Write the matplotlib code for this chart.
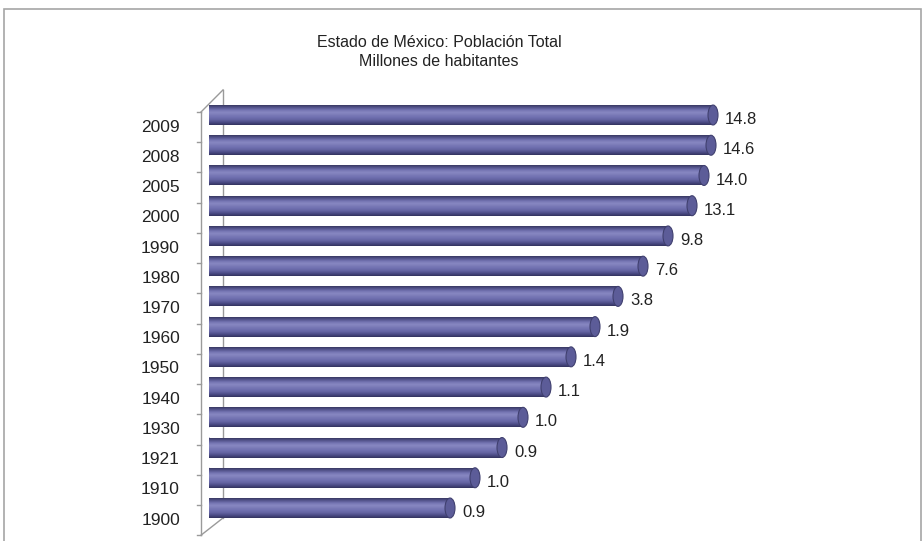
"""
Estado de México: Población Total - barras horizontales tipo cilindro
"""
import numpy as np
import matplotlib
matplotlib.use('Agg')
import matplotlib.pyplot as plt
from matplotlib.patches import Ellipse, Rectangle

plt.rcParams['font.family'] = ['Liberation Sans', 'DejaVu Sans']

# ==================== datos ====================
anios = ['1900', '1910', '1921', '1930', '1940', '1950', '1960',
         '1970', '1980', '1990', '2000', '2005', '2008', '2009']
poblacion = [0.9, 1.0, 0.9, 1.0, 1.1, 1.4, 1.9, 3.8, 7.6, 9.8, 13.1, 14.0, 14.6, 14.8]
# largo visible de cada barra en el original (no es proporcional al valor)
largo_barra = [246, 271, 298, 319, 342, 367, 391, 414, 439, 464, 488, 500, 507, 509]

titulo = 'Estado de México: Población Total\nMillones de habitantes'

# ==================== figura ====================
W, H = 924, 541
fig = plt.figure(figsize=(W / 100, H / 100), dpi=100)
fig.patch.set_facecolor('white')

# marco exterior gris
fig.add_artist(Rectangle((4 / W, -0.05), 917 / W, (H - 9) / H + 0.05,
                         transform=fig.transFigure, fill=False,
                         edgecolor='#a6a6a6', linewidth=1.2))

# ejes: 1 unidad x = 1 px, 1 unidad y = una categoría (~30.2 px)
px_y = 30.23
y0_px = 508  # centro de la barra 1900
bottom_px, top_px = 530, 88
ax = fig.add_axes([209 / W, (H - bottom_px) / H, 600 / W, (bottom_px - top_px) / H])
ax.set_xlim(0, 600)
ax.set_ylim(-(bottom_px - y0_px) / px_y, (y0_px - top_px) / px_y)
ax.axis('off')

pos = np.arange(len(anios))
alto = 0.66
cap = 10

# degradado del cilindro (de abajo hacia arriba)
grad_cols = ['#33335f', '#4a4a84', '#6262a0', '#6f6faf', '#7a7ab7',
             '#8888c2', '#7676b3', '#565690', '#393963']
cmap = matplotlib.colors.LinearSegmentedColormap.from_list('cil', grad_cols)
grad = np.linspace(0, 1, 64).reshape(-1, 1)

# pared del fondo y eje frontal
gris = '#9a9a9a'
ax.plot([14, 14], [-0.33, 13.83], color=gris, lw=1, zorder=1, clip_on=False)
ax.plot([-8, -8], [-0.9, 13.1], color=gris, lw=1, zorder=1, clip_on=False)
ax.plot([-8, 14], [13.1, 13.83], color=gris, lw=1, zorder=1, clip_on=False)
ax.plot([-8, 14], [-0.9, -0.33], color=gris, lw=1, zorder=1, clip_on=False)
for k in range(len(anios) + 1):
    yt = -0.9 + k
    ax.plot([-12, -8], [yt, yt], color=gris, lw=1, zorder=1, clip_on=False)

barras = ax.barh(pos, [l - cap / 2 for l in largo_barra], height=alto,
                 color='#6262a0', edgecolor='none', zorder=3)
for b, l, y in zip(barras, largo_barra, pos):
    im = ax.imshow(grad, cmap=cmap, aspect='auto', origin='lower',
                   extent=[0, l - cap / 2, y - alto / 2, y + alto / 2], zorder=4)
    im.set_clip_path(b)
    # extremo redondeado izquierdo
    ax.add_patch(Ellipse((0, y), cap * 0.8, alto, facecolor='#6868a6',
                         edgecolor='none', zorder=3.5))
    # tapa del cilindro
    ax.add_patch(Ellipse((l - cap / 2, y), cap, alto, facecolor='#5c5c98',
                         edgecolor='#40406f', linewidth=0.8, zorder=5))

# etiquetas de valor
for l, y, v in zip(largo_barra, pos, poblacion):
    ax.text(l + 7, y - 0.15, f'{v:.1f}', ha='left', va='center',
            fontsize=12, color='#222222', zorder=6)

# etiquetas de años
for y, a in zip(pos, anios):
    ax.text(-29, y - 0.4, a, ha='right', va='center', fontsize=12.5,
            color='#222222', clip_on=False)

fig.text(439 / W, 1 - 52 / H, titulo, ha='center', va='center',
         fontsize=11.5, color='#222222', linespacing=1.3)

fig.savefig('out.png', dpi=100, facecolor='white')
